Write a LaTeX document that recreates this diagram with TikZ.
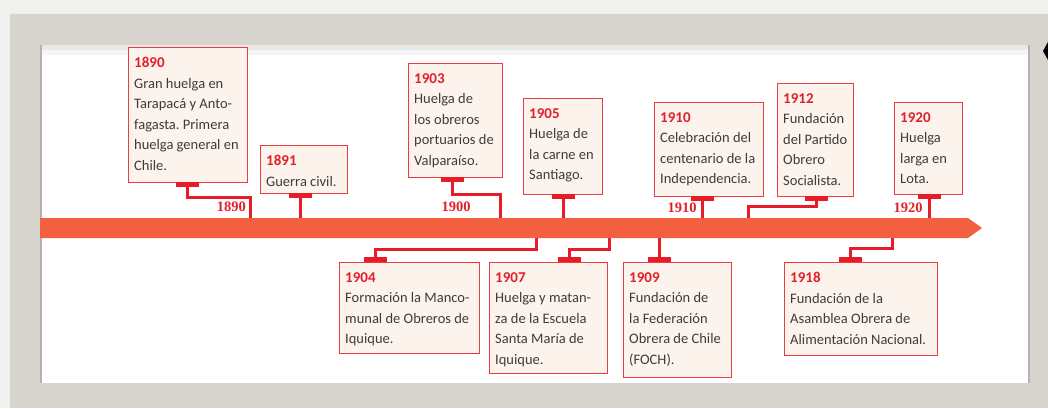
\documentclass[tikz,border=0pt]{standalone}
\usepackage{fontspec}
\setmainfont{Carlito}
\newfontfamily\yrserif{Liberation Serif}
\frenchspacing
\definecolor{pagebg}{RGB}{240,240,238}
\definecolor{framec}{RGB}{214,212,204}
\definecolor{barc}{RGB}{243,96,64}
\definecolor{conc}{RGB}{232,28,40}
\definecolor{boxfill}{RGB}{251,243,236}
\definecolor{boxline}{RGB}{234,60,66}
\definecolor{txtc}{RGB}{66,58,56}
\definecolor{yrc}{RGB}{226,32,44}
\tikzset{
 tlbox/.style={draw=boxline, line width=1.4pt, fill=boxfill, inner sep=0pt, anchor=north west},
 tltext/.style={inner sep=0pt, anchor=north west, align=left, text=txtc, font=\fontsize{14.5}{20.5}\selectfont},
 tlcap/.style={fill=conc, inner sep=0pt, minimum width=23pt, minimum height=5pt},
 conn/.style={draw=conc, line width=3pt, line join=miter},
 axislbl/.style={text=yrc, font=\yrserif\bfseries\fontsize{14.5}{16}\selectfont, inner sep=0pt},
}
\newcommand\tlyear[1]{{\color{yrc}\bfseries\fontsize{15}{20.5}\selectfont #1}}
\newcommand\tlitem[7]{%
 \node[tlbox, minimum width=#4pt, minimum height=#5pt] (#1) at (#2,#3) {};
 \node[tltext] (#1t) at ([xshift=6pt,yshift=-10pt]#1.north west) {\tlyear{#6}\\#7};
}
\begin{document}
\begin{tikzpicture}[x=1pt,y=-1pt]
\useasboundingbox (0,0) rectangle (1048,408);
% background frame
\fill[pagebg] (0,0) rectangle (1048,408);
\fill[framec] (10,12) rectangle (1048,408);
\draw[white!60!framec, line width=1.5pt] (10,13) -- (1048,13);
\fill[white] (40,45) rectangle (1030,383);
\fill[gray!18] (40,45) rectangle (1030,50);
\fill[gray!8] (40,50) rectangle (1030,55);
\draw[gray!60, line width=1.5pt] (41,45) -- (41,383);
\draw[gray!60, line width=1.5pt] (1029,45) -- (1029,383);
\fill[black] (1048,42) -- (1043,51) -- (1048,60) -- cycle;
% boxes
\tlitem{e1890}{128}{47}{119}{135}{1890}{Gran huelga en\\Tarapacá y Anto-\\fagasta. Primera\\huelga general en\\Chile.}
\tlitem{e1891}{260}{145}{87}{48}{1891}{Guerra civil.}
\tlitem{e1903}{408}{63}{94}{114}{1903}{Huelga de\\los obreros\\portuarios de\\Valparaíso.}
\tlitem{e1905}{523}{98}{79}{96}{1905}{Huelga de\\la carne en\\Santiago.}
\tlitem{e1910}{654}{102}{109}{94}{1910}{Celebración del\\centenario de la\\Independencia.}
\tlitem{e1912}{777}{83}{76}{113}{1912}{Fundación\\del Partido\\Obrero\\Socialista.}
\tlitem{e1920}{894}{102}{68}{92}{1920}{Huelga\\larga en\\Lota.}
\tlitem{e1904}{339}{262}{140}{91}{1904}{Formación la Manco-\\munal de Obreros de\\Iquique.}
\tlitem{e1907}{489}{262}{118}{111}{1907}{Huelga y matan-\\za de la Escuela\\Santa María de\\Iquique.}
\tlitem{e1909}{623}{262}{108}{115}{1909}{Fundación de\\la Federación\\Obrera de Chile\\(FOCH).}
\tlitem{e1918}{784}{262}{153}{93}{1918}{Fundación de la\\Asamblea Obrera de\\Alimentación Nacional.}
% caps
\node[tlcap] (c1890) at (187,184.5) {};
\node[tlcap] (c1891) at (300,195.5) {};
\node[tlcap] (c1903) at (452,179.5) {};
\node[tlcap] (c1905) at (563,196) {};
\node[tlcap] (c1910) at (702,198) {};
\node[tlcap] (c1912) at (816,198) {};
\node[tlcap] (c1920) at (929,196.5) {};
\node[tlcap] (c1904) at (375,259.5) {};
\node[tlcap] (c1907) at (569,259.5) {};
\node[tlcap] (c1909) at (659,259.5) {};
\node[tlcap] (c1918) at (850,259.5) {};
% attachment points on the bar
\coordinate (a1890) at (250,221);
\coordinate (a1891) at (300,221);
\coordinate (a1903) at (500,221);
\coordinate (a1905) at (563,221);
\coordinate (a1910) at (702,221);
\coordinate (a1912) at (748,221);
\coordinate (a1920) at (929,221);
\coordinate (a1904) at (536,235);
\coordinate (a1907) at (609,235);
\coordinate (a1909) at (659,235);
\coordinate (a1918) at (892,235);
% connectors
\draw[conn] (c1890.south) -- ++(0,10) -| (a1890);
\draw[conn] (c1891.south) -- (a1891);
\draw[conn] (c1903.south) -- ++(0,12) -| (a1903);
\draw[conn] (c1905.south) -- (a1905);
\draw[conn] (c1910.south) -- (a1910);
\draw[conn] (c1912.south) -- ++(0,6) -| (a1912);
\draw[conn] (c1920.south) -- (a1920);
\draw[conn] (c1904.north) -- ++(0,-7) -| (a1904);
\draw[conn] (c1907.north) -- ++(0,-7) -| (a1907);
\draw[conn] (c1909.north) -- (a1909);
\draw[conn] (c1918.north) -- ++(0,-8) -| (a1918);
% timeline bar
\fill[barc] (40,218) -- (968,218) -- (982,228) -- (968,238) -- (40,238) -- cycle;
% year labels on axis
\node[axislbl, anchor=east] (l1890) at (246,207) {1890};
\node[axislbl] (l1900) at (456,207) {1900};
\node[axislbl] (l1910) at (682,208) {1910};
\node[axislbl] (l1920) at (908,208) {1920};
\end{tikzpicture}
\end{document}
